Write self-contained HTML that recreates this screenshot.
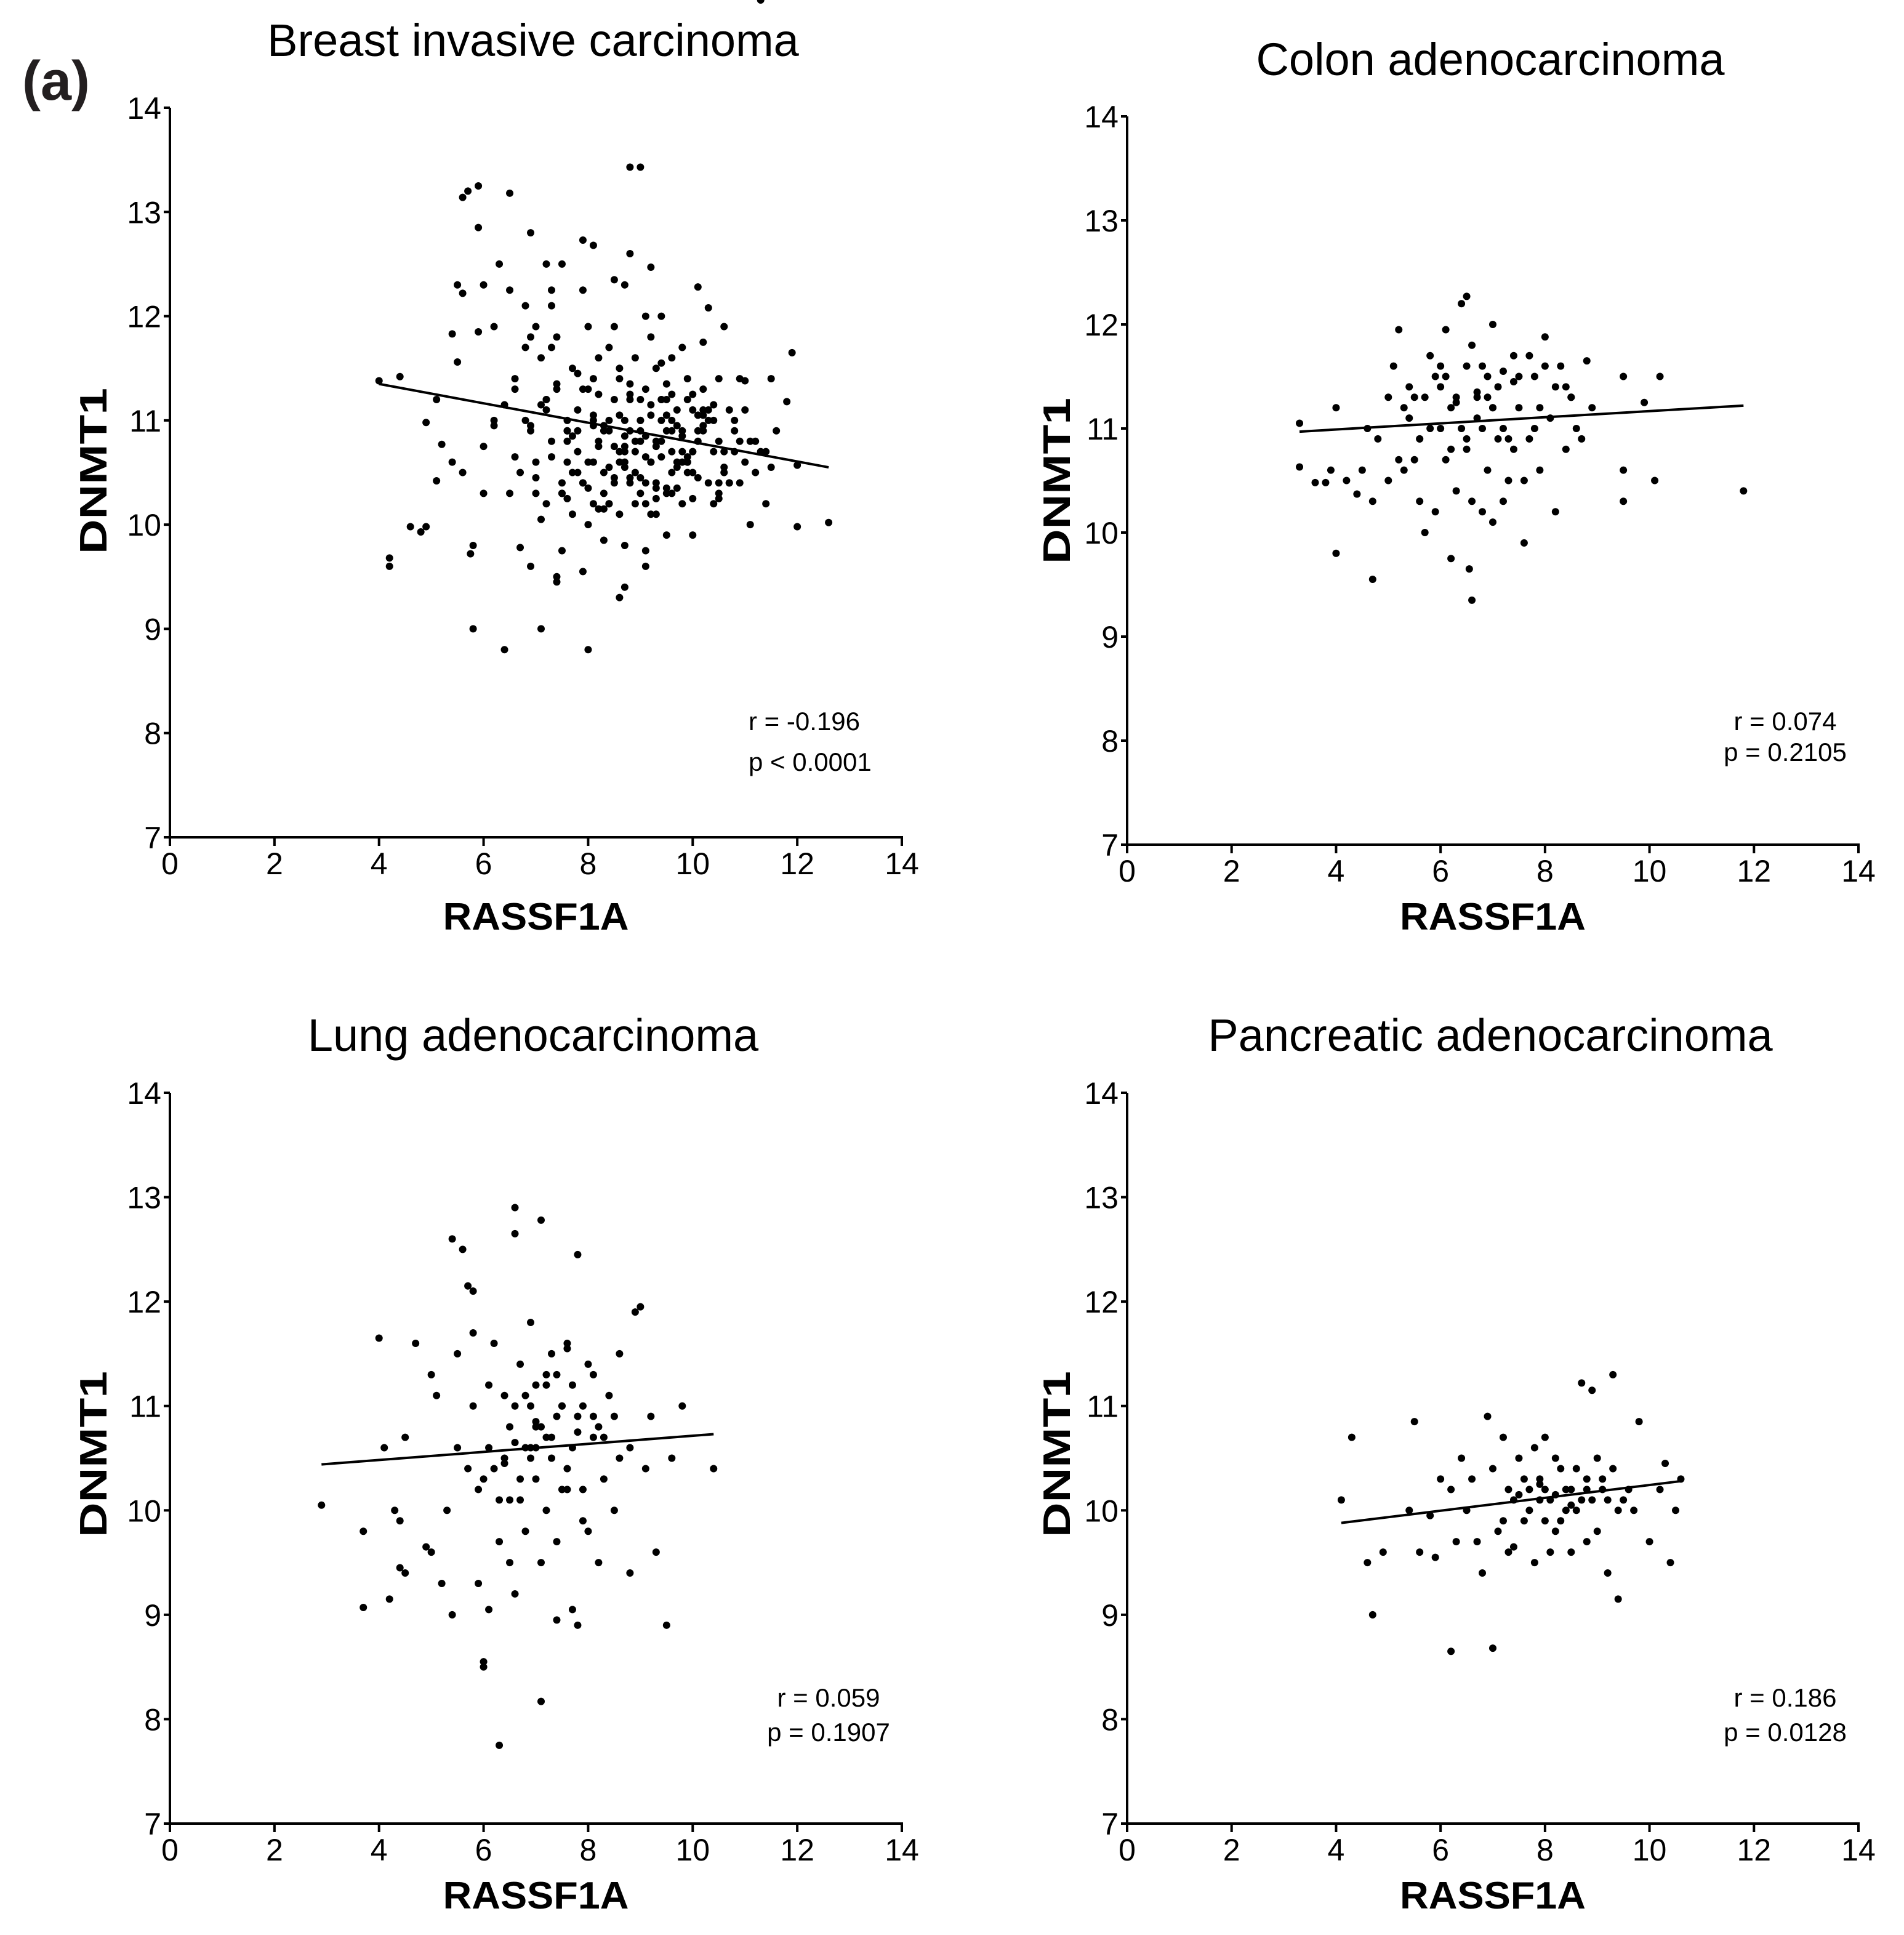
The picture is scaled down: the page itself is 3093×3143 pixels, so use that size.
<!DOCTYPE html>
<html><head><meta charset="utf-8">
<style>
html,body{margin:0;padding:0;background:#fff;}
svg{display:block;font-family:"Liberation Sans",Arial,sans-serif;}
</style></head>
<body>
<svg id="fig" xmlns="http://www.w3.org/2000/svg" width="3093" height="3143" viewBox="0 0 3093 3143">
<rect width="3093" height="3143" fill="#fff"/>
<text x="36" y="162" font-size="90" font-weight="bold" fill="#231f20">(a)</text>
</svg>
<script>
// ---- data ----
const xTicks=[0,2,4,6,8,10,12,14];
const yTicks=[7,8,9,10,11,12,13,14];
const breastX=[4.0,4.4,4.2,4.2,4.6,4.8,4.9,4.9,5.1,5.2,5.1,5.4,5.4,5.5,5.5,5.6,5.6,5.7,5.9,5.9,6.0,5.8,5.8,5.75,6.4,6.5,7.1,8.0,8.8,9.0,6.9,7.9,8.1,8.8,9.2,10.1,10.3,11.9,11.8,12.6,12.0,12.0,11.5,11.4,11.0,10.6,10.2,8.6,8.7,9.1,7.4,7.4,6.9,7.9,6.7,6.5,6.0,6.0,6.2,5.6,6.2,6.5,6.3,7.2,7.5,6.8,7.3,7.9,8.5,8.7,9.1,9.4,10.7,10.9,11.2,11.4,10.5,10.0,9.5,9.1,8.7,8.3,8.0,7.5,7.2,7.0,6.8,6.6,6.8,7.1,7.4,7.6,7.8,7.9,8.1,8.3,8.4,8.5,8.6,8.2,8.0,7.7,7.3,7.5,7.7,8.6,8.8,8.9,9.0,9.1,9.3,9.5,9.6,9.7,9.5,9.3,9.0,9.8,10.0,10.1,10.0,9.9,10.3,10.4,10.6,10.8,10.3,9.2,8.7,8.5,8.2,8.0,8.9,9.2,9.6,8.4,7.2,7.0,6.9,7.6,9.4,9.8,10.2,9.4,8.8,9.6,10.5,11.0,11.6,8.9,9.3,9.7,10.1,8.4,8.8,9.2,9.6,10.0,8.1,7.8,9.0,9.4,9.9,10.4,8.6,8.3,7.6,7.9,9.1,9.5,10.2,10.7,8.7,9.8,
 7.0,7.1,7.3,7.4,7.6,7.7,7.8,8.0,8.1,8.2,8.3,8.5,8.6,8.7,8.8,9.0,9.1,9.2,9.3,9.4,9.5,9.7,9.8,9.9,10.0,10.1,10.2,10.4,10.5,10.6,10.8,10.9,11.1,11.3,
 7.2,7.5,7.8,8.1,8.4,8.7,9.0,9.3,9.6,9.9,10.2,10.5,10.8,11.1,7.4,7.7,8.0,8.3,8.6,8.9,9.2,9.5,9.8,10.1,10.4,10.7,11.0,
 6.7,6.9,7.1,7.3,7.6,7.9,8.2,8.5,8.8,9.1,9.4,9.7,10.0,10.3,10.6,6.6,6.9,7.2,7.5,7.8,8.1,8.4,8.7,9.0,9.3,9.6,9.9,10.2,10.5,10.9,
 8.1,8.4,8.7,9.0,9.3,9.6,9.9,8.2,8.5,8.8,9.1,9.4,9.7,10.0,8.3,8.6,8.9,9.2,9.5,9.8,6.4,6.2,6.6,5.9,7.0,7.3,7.6,11.2,11.5,11.3];
const breastY=[11.38,11.42,9.68,9.6,9.98,9.93,9.98,10.98,11.2,10.77,10.42,10.6,11.83,12.3,11.56,12.22,13.14,13.2,13.25,12.85,12.3,9.0,9.8,9.72,8.8,13.18,9.0,8.8,13.43,13.43,12.8,12.73,12.68,12.6,12.47,12.28,12.08,11.65,11.18,10.02,9.98,10.57,11.4,10.2,11.38,11.9,11.75,9.3,9.4,9.6,9.45,9.5,9.6,9.55,9.78,10.3,10.3,10.75,11.0,10.5,11.9,12.25,12.5,12.5,12.5,12.1,12.25,12.25,12.35,12.3,12.0,12.0,11.1,10.8,10.5,10.7,10.3,9.9,9.9,9.75,9.8,9.85,10.0,9.75,10.2,10.6,11.0,11.4,11.7,11.6,11.3,11.0,10.7,10.4,10.2,10.5,10.9,11.2,11.5,11.6,11.3,11.5,10.8,10.4,10.1,10.1,10.4,10.7,11.0,11.3,11.5,11.2,10.9,10.6,10.3,10.1,10.3,10.2,10.5,10.8,11.1,11.4,11.0,10.7,10.5,10.9,10.4,10.6,10.7,10.4,10.8,10.6,11.6,11.8,11.6,11.7,11.1,10.3,10.9,10.6,10.8,10.7,11.3,11.0,10.9,10.5,11.4,10.6,10.9,10.5,10.8,11.1,10.9,10.2,11.2,10.6,10.3,10.7,11.0,10.5,10.8,11.2,10.6,11.0,10.7,10.9,10.8,10.4,10.2,10.9,11.1,10.4,11.0,
 10.9,10.45,11.15,10.65,11.35,10.25,10.85,11.45,10.35,10.95,11.25,10.15,10.75,11.05,10.55,11.35,10.45,10.85,11.15,10.25,10.65,11.05,10.35,10.85,10.6,11.25,10.45,10.95,11.15,10.25,10.55,11.0,10.4,10.8,
 10.7,11.2,10.3,10.9,11.4,10.2,10.6,11.2,10.4,10.7,11.2,10.9,10.4,10.7,10.0,11.8,10.5,11.9,10.3,11.4,10.8,10.1,11.35,10.6,11.05,10.2,10.4,
 11.1,10.5,11.8,10.05,11.7,10.9,11.3,10.15,11.9,10.45,10.65,11.55,10.95,10.7,11.1,10.7,11.3,10.95,11.2,10.3,11.1,10.6,11.0,10.75,10.9,10.35,11.25,10.65,11.05,10.8,
 11.4,11.05,10.55,10.85,11.0,10.75,11.0,10.5,10.75,10.45,11.25,10.4,11.2,10.55,10.25,10.95,10.6,10.2,11.05,10.35,11.7,11.15,10.95,10.65,11.85,11.9,12.1,10.9,10.8,10.55];
const breastLine=[[4.0,11.35],[12.6,10.55]];
const colonX=[3.3,3.3,3.6,3.8,3.9,4.0,4.0,4.2,4.4,4.5,4.7,4.7,4.8,5.0,5.1,5.2,5.3,5.4,5.5,5.6,5.6,5.7,5.8,5.9,6.0,6.1,6.1,6.2,6.2,6.3,6.4,6.5,6.5,6.5,6.6,6.6,6.55,6.7,6.8,6.9,7.0,7.0,7.1,7.2,7.3,7.4,7.5,7.6,7.7,7.8,7.9,8.0,8.1,8.2,8.3,8.4,8.5,8.6,8.8,8.9,9.5,9.5,9.5,9.9,10.1,10.2,11.8,5.3,5.9,6.3,6.8,7.2,7.6,6.0,6.6,7.0,7.4,5.7,6.2,6.8,7.8,8.2,6.4,5.5,7.1,6.9,5.0,4.6,8.7,7.5,5.4,6.1,6.7,7.3,7.9,8.4,5.8,6.5,7.0,5.2,6.0,6.9,7.7,8.5,5.6,6.3,7.2,8.0,6.7,7.4];
const colonY=[11.05,10.63,10.48,10.48,10.6,9.8,11.2,10.5,10.37,10.6,9.55,10.3,10.9,11.3,11.6,11.95,11.2,11.1,11.3,10.9,10.3,10.0,11.7,11.5,11.0,10.7,11.95,9.75,11.2,10.4,12.2,12.27,11.6,10.9,10.3,9.35,9.65,11.3,11.6,10.6,10.1,12.0,11.4,11.0,10.5,11.7,11.2,9.9,10.9,11.5,10.6,11.88,11.1,10.2,11.6,10.8,11.3,11.0,11.65,11.2,10.6,11.5,10.3,11.25,10.5,11.5,10.4,10.6,10.2,11.3,11.0,10.3,10.5,11.6,11.8,11.2,10.8,11.3,10.8,10.2,11.0,11.4,11.0,10.7,10.9,11.5,10.5,11.0,10.9,11.5,11.4,11.5,11.1,10.9,11.2,11.4,11.0,10.8,11.2,10.7,11.4,11.3,11.7,11.3,10.9,11.25,11.55,11.6,11.35,11.45,11.55];
const colonLine=[[3.3,10.97],[11.8,11.22]];
const lungX=[2.9,3.7,3.7,4.0,4.1,4.2,4.3,4.4,4.4,4.5,4.5,4.7,4.9,5.0,5.1,5.2,5.3,5.4,5.4,5.5,5.6,5.7,5.7,5.8,5.8,5.9,6.0,6.0,6.1,6.1,6.2,6.3,6.3,6.4,6.5,6.6,6.6,6.6,6.7,6.8,6.9,7.0,7.1,7.1,7.2,7.3,7.4,7.4,7.5,7.6,7.7,7.8,7.8,7.9,8.0,8.1,8.2,8.3,8.4,8.5,8.6,8.8,8.9,9.0,9.1,9.3,9.5,9.8,10.4,6.8,7.0,7.2,7.4,7.6,7.0,6.5,6.9,7.3,7.8,7.9,8.2,6.4,6.7,7.5,7.1,6.3,5.9,8.6,8.0,7.7,6.6,7.2,6.1,5.5,5.0,8.8,9.2,6.8,7.3,7.6,8.1,6.2,7.0,7.4,6.9,7.7,8.3,6.5,7.1,5.8,8.5,9.6,6.0,7.9,6.7,7.2,7.5,6.9,7.8,8.1,6.4,7.0,7.6,6.6];
const lungY=[10.05,9.07,9.8,11.65,10.6,9.15,10.0,9.9,9.45,9.4,10.7,11.6,9.65,11.3,11.1,9.3,10.0,12.6,9.0,11.5,12.5,12.15,10.4,12.1,11.0,9.3,8.5,8.55,9.05,10.6,11.6,7.75,10.1,11.1,9.5,12.9,12.65,11.0,10.3,9.8,11.8,10.8,12.78,8.17,11.3,10.5,9.7,8.95,11.0,11.6,9.05,12.45,8.9,10.2,11.4,10.7,9.5,10.3,11.1,10.0,11.5,10.6,11.9,11.95,10.4,9.6,8.9,11.0,10.4,10.6,11.2,10.0,10.9,10.4,10.3,10.8,11.0,11.5,10.9,11.0,10.8,10.5,11.4,10.2,9.5,9.7,10.2,10.5,9.8,10.6,9.2,10.7,11.2,10.6,9.6,9.4,10.9,11.1,10.7,10.2,10.9,10.4,10.6,11.3,10.5,11.2,10.7,10.1,10.8,11.7,10.9,10.5,10.3,9.9,10.1,11.2,11.0,10.6,10.75,11.3,10.45,10.85,11.55,10.65,10.9];
const lungLine=[[2.9,10.44],[10.4,10.73]];
const pancX=[4.1,4.3,4.6,4.7,4.9,5.4,5.5,5.8,5.9,6.0,6.2,6.3,6.4,6.6,6.8,6.9,7.0,7.1,7.2,7.3,7.4,7.5,7.6,7.7,7.8,7.9,8.0,8.1,8.2,8.3,8.4,8.5,8.6,8.7,8.8,8.9,9.0,9.1,9.2,9.3,9.4,9.5,9.7,9.8,10.0,10.2,10.3,10.4,10.5,10.6,7.6,7.9,8.2,8.0,8.4,8.6,8.9,7.4,7.0,6.7,6.5,7.3,8.1,8.8,9.3,9.6,7.8,6.2,5.6,8.3,8.5,9.0,7.7,8.7,9.1,7.2,8.0,9.4,8.2,8.5,7.9,8.8,7.5,9.2];
const pancY=[10.1,10.7,9.5,9.0,9.6,10.0,10.85,9.95,9.55,10.3,8.65,9.7,10.5,10.3,9.4,10.9,8.68,9.8,10.7,10.2,9.65,10.5,9.9,10.0,9.5,10.3,10.7,10.1,9.8,10.4,10.2,9.6,10.0,11.22,10.3,11.15,9.8,10.2,9.4,11.3,9.15,10.1,10.0,10.85,9.7,10.2,10.45,9.5,10.0,10.3,10.3,10.1,10.5,9.9,10.0,10.4,10.1,10.1,10.4,9.7,10.0,9.6,9.6,9.7,10.4,10.2,10.6,10.2,9.6,9.9,10.2,10.5,10.2,10.1,10.3,9.9,10.2,10.0,10.15,10.05,10.25,10.2,10.15,10.1];
const pancLine=[[4.1,9.88],[10.6,10.28]];

const panels=[
 {id:'breast',title:'Breast invasive carcinoma',x0:276,x1:1465,y14:175,y7:1360,tx:866,ty:91,lx:1510,dny:765,dnx:151,xs:breastX,ys:breastY,line:breastLine,r:'r = -0.196',p:'p < 0.0001',ax:1216,anc:'start',ry:1186,py:1252},
 {id:'colon',title:'Colon adenocarcinoma',x0:1831,x1:3019,y14:189,y7:1372,tx:2421,ty:122,lx:1510,dny:781,dnx:1716,xs:colonX,ys:colonY,line:colonLine,r:'r = 0.074',p:'p = 0.2105',ax:2900,anc:'middle',ry:1186,py:1236},
 {id:'lung',title:'Lung adenocarcinoma',x0:276,x1:1465,y14:1775,y7:2962,tx:866,ty:1707,lx:3100,dny:2362,dnx:151,xs:lungX,ys:lungY,line:lungLine,r:'r = 0.059',p:'p = 0.1907',ax:1346,anc:'middle',ry:2772,py:2828},
 {id:'pancreatic',title:'Pancreatic adenocarcinoma',x0:1831,x1:3019,y14:1775,y7:2962,tx:2421,ty:1707,lx:3100,dny:2362,dnx:1716,xs:pancX,ys:pancY,line:pancLine,r:'r = 0.186',p:'p = 0.0128',ax:2900,anc:'middle',ry:2772,py:2828}
];
const NS='http://www.w3.org/2000/svg';
const svg=document.getElementById('fig');
function mk(tag,attrs,parent){const e=document.createElementNS(NS,tag);for(const k in attrs)e.setAttribute(k,attrs[k]);parent.appendChild(e);return e;}
panels.forEach(P=>{
 const sx=v=>P.x0+(v-0)/14*(P.x1-P.x0);
 const sy=v=>P.y7-(v-7)/7*(P.y7-P.y14);
 const g=mk('g',{},svg);
 
 
 const t=mk('text',{x:P.tx,y:P.ty,'font-size':74,'text-anchor':'middle',fill:'#000'},g);
 t.textContent=P.title;
 
 
 const ya=mk('line',{x1:P.x0,y1:P.y14,x2:P.x0,y2:P.y7,stroke:'#000','stroke-width':4},g);
 
 
 const xa=mk('line',{x1:P.x0-2,y1:P.y7,x2:P.x1+2,y2:P.y7,stroke:'#000','stroke-width':4},g);
 
 
 yTicks.forEach(v=>{
  mk('line',{x1:P.x0-10,y1:sy(v),x2:P.x0,y2:sy(v),stroke:'#000','stroke-width':4},g);
  const l=mk('text',{x:P.x0-14,y:sy(v)+18,'font-size':50,'text-anchor':'end',fill:'#000'},g);
  l.textContent=v;
  
  
 });
 xTicks.forEach(v=>{
  mk('line',{x1:sx(v),y1:P.y7,x2:sx(v),y2:P.y7+14,stroke:'#000','stroke-width':4},g);
  const l=mk('text',{x:sx(v),y:P.y7+60,'font-size':50,'text-anchor':'middle',fill:'#000'},g);
  l.textContent=v;
  
  
 });
 const xl=mk('text',{x:(P.x0+P.x1)/2,y:P.lx,'font-size':62,'font-weight':'bold','text-anchor':'middle',fill:'#000',textLength:302,lengthAdjust:'spacingAndGlyphs'},g);
 xl.textContent='RASSF1A';
 
 
 const yl=mk('text',{x:0,y:0,'font-size':62,'font-weight':'bold','text-anchor':'middle',fill:'#000',transform:`translate(${P.dnx+22},${P.dny}) rotate(-90)`,textLength:270,lengthAdjust:'spacingAndGlyphs'},g);
 yl.textContent='DNMT1';
 
 
 P.xs.forEach((xv,i)=>{
  const c=mk('circle',{cx:sx(xv),cy:sy(P.ys[i]),r:6,fill:'#000'},g);
  
  
 });
 const rl=mk('line',{x1:sx(P.line[0][0]),y1:sy(P.line[0][1]),x2:sx(P.line[1][0]),y2:sy(P.line[1][1]),stroke:'#000','stroke-width':4},g);
 
 
 const r=mk('text',{x:P.ax,y:P.ry,'font-size':42,'text-anchor':P.anc,fill:'#000'},g);
 r.textContent=P.r;
 
 
 const p=mk('text',{x:P.ax,y:P.py,'font-size':42,'text-anchor':P.anc,fill:'#000'},g);
 p.textContent=P.p;
 
 
});
</script>
</body></html>
